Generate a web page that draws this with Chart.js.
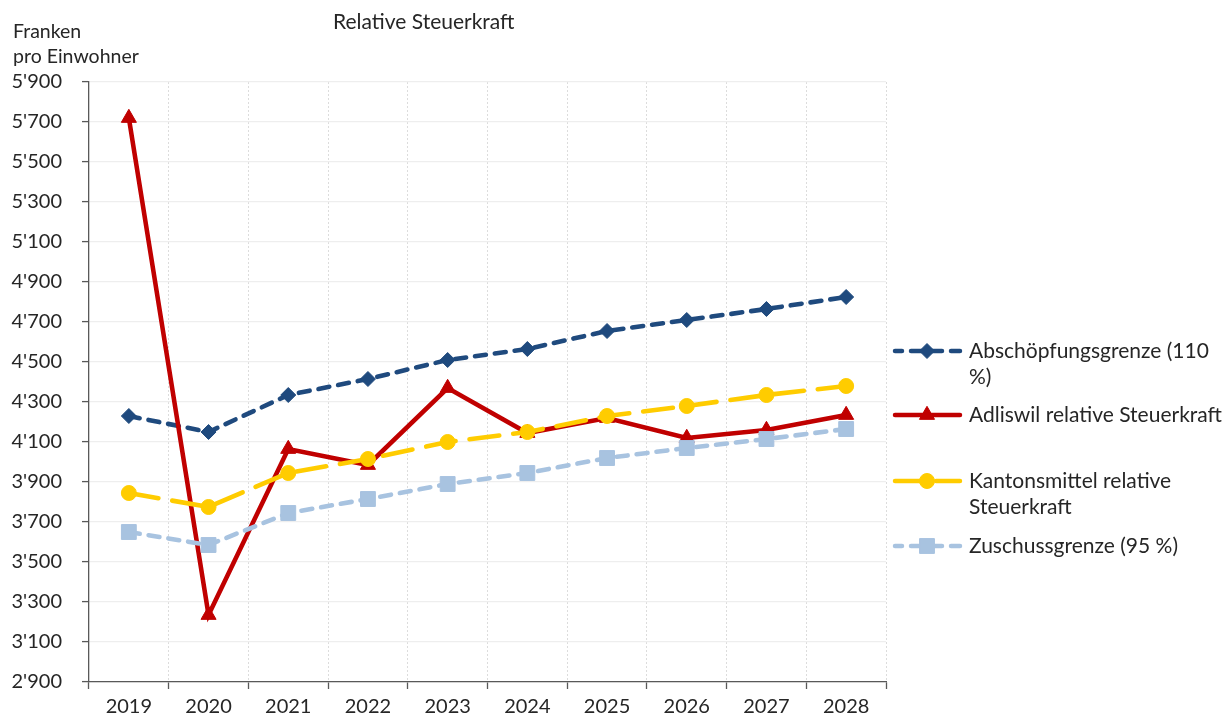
<!DOCTYPE html>
<html><head><meta charset="utf-8">
<script src="https://cdn.jsdelivr.net/npm/chart.js@4/dist/chart.umd.min.js"></script>
<style>html,body{margin:0;padding:0;background:#fff}#wrap{width:1227px;height:720px;position:relative}</style>
</head><body>
<div id="wrap"><canvas id="c"></canvas></div>
<script>
const years = ['2019','2020','2021','2022','2023','2024','2025','2026','2027','2028'];
const abschoepfung = [4230,4150,4335,4415,4510,4565,4655,4710,4765,4825];
const adliswil = [5720,3235,4065,3985,4370,4145,4220,4120,4160,4235];
const kantonsmittel = [3845,3775,3945,4015,4100,4150,4230,4280,4335,4380];
const zuschuss = [3650,3585,3745,3815,3890,3945,4020,4070,4115,4165];
const seriesNames = ['Abschöpfungsgrenze (110 %)','Adliswil relative Steuerkraft','Kantonsmittel relative Steuerkraft','Zuschussgrenze (95 %)'];
const yMin = 2900, yMax = 5900, yStep = 200;
const titleText = 'Relative Steuerkraft';
const yTitle = ['Franken','pro Einwohner'];

const FONT = 'Lato, "DejaVu Sans", sans-serif';
const NAVY = '#1f4a7e', RED = '#c00000', YEL = '#ffcc00', LBLUE = '#a8c3e0';

const fmt = v => { const s = Math.round(v).toString(); return s.length > 3 ? s.slice(0, -3) + "'" + s.slice(-3) : s; };

const legendItems = [
  {lines:['Abschöpfungsgrenze (110','%)'], y:351, color:NAVY, dash:[11,9], offset:4, style:'rectRot', r:7.5},
  {lines:['Adliswil relative Steuerkraft'], y:415, color:RED, dash:[], offset:0, style:'triangle', r:8.7},
  {lines:['Kantonsmittel relative','Steuerkraft'], y:481, color:YEL, dash:[30,14], offset:3, style:'circle', r:7.5},
  {lines:['Zuschussgrenze (95 %)'], y:546, color:LBLUE, dash:[11,9], offset:4, style:'rect', r:10.5}
];

const overlay = {
  id:'overlay',
  afterDraw(chart){
    const ctx = chart.ctx;
    ctx.save();
    ctx.fillStyle = '#262626';
    ctx.textBaseline = 'middle';
    ctx.textAlign = 'left';
    ctx.font = '21px ' + FONT;
    ctx.fillText(titleText, 333, 22);
    ctx.font = '19.5px ' + FONT;
    ctx.fillText(yTitle[0], 13, 32);
    ctx.fillText(yTitle[1], 13, 57);
    legendItems.forEach(it => {
      ctx.save();
      ctx.strokeStyle = it.color;
      ctx.lineWidth = 4.5;
      ctx.lineCap = 'round';
      ctx.setLineDash(it.dash);
      ctx.lineDashOffset = it.offset;
      ctx.beginPath();
      ctx.moveTo(895, it.y); ctx.lineTo(960, it.y);
      ctx.stroke();
      ctx.restore();
      ctx.save();
      ctx.fillStyle = it.color;
      ctx.strokeStyle = it.color;
      Chart.helpers.drawPoint(ctx, {pointStyle: it.style, radius: it.r, borderWidth: 1, rotation: 0}, 927, it.y);
      ctx.restore();
      ctx.font = '21px ' + FONT;
      ctx.fillStyle = '#262626';
      it.lines.forEach((t, i) => ctx.fillText(t, 969, it.y + i * 26));
    });
    ctx.restore();
  }
};

const common = {borderWidth:4.6, fill:false, tension:0, borderCapStyle:'round', pointBorderWidth:1};

new Chart(document.getElementById('c'), {
  type:'line',
  data:{
    labels: years,
    datasets:[
      {...common, label:seriesNames[0], data:abschoepfung, borderColor:NAVY, backgroundColor:NAVY, pointBackgroundColor:NAVY, pointBorderColor:NAVY, borderDash:[11,9], pointStyle:'rectRot', pointRadius:7.5, order:4},
      {...common, label:seriesNames[1], data:adliswil, borderColor:RED, backgroundColor:RED, pointBackgroundColor:RED, pointBorderColor:RED, pointStyle:'triangle', pointRadius:8.7, order:3},
      {...common, label:seriesNames[2], data:kantonsmittel, borderColor:YEL, backgroundColor:YEL, pointBackgroundColor:YEL, pointBorderColor:YEL, borderDash:[30,14], pointStyle:'circle', pointRadius:7.5, order:2},
      {...common, label:seriesNames[3], data:zuschuss, borderColor:LBLUE, backgroundColor:LBLUE, pointBackgroundColor:LBLUE, pointBorderColor:LBLUE, borderDash:[11,9], pointStyle:'rect', pointRadius:10.5, order:1}
    ]
  },
  options:{
    responsive:true, maintainAspectRatio:false, animation:false,
    layout:{padding:{left:0, top:82, right:1227-886, bottom:0}},
    plugins:{legend:{display:false}, title:{display:false}, tooltip:{enabled:false}},
    scales:{
      x:{
        offset:true,
        grid:{offset:true, color:'#dcdcdc', lineWidth:1, tickColor:'#595959', tickLength:7, tickWidth:1.3, tickBorderDash:[], drawOnChartArea:true},
        border:{display:true, color:'#595959', width:1.3, dash:[2,2]},
        ticks:{color:'#262626', font:{family:FONT, size:20}, padding:6, maxRotation:0, autoSkip:false},
        afterFit(s){ s.height = 720 - 682; }
      },
      y:{
        min:yMin, max:yMax,
        grid:{color:'#eeeeee', lineWidth:1.2, tickColor:'#595959', tickLength:7, tickWidth:1.3},
        border:{display:true, color:'#595959', width:1.3},
        ticks:{stepSize:yStep, color:'#262626', font:{family:FONT, size:20}, padding:20, callback:v => fmt(v)},
        afterFit(s){ s.width = 89; }
      }
    }
  },
  plugins:[overlay]
});
</script>
</body></html>
